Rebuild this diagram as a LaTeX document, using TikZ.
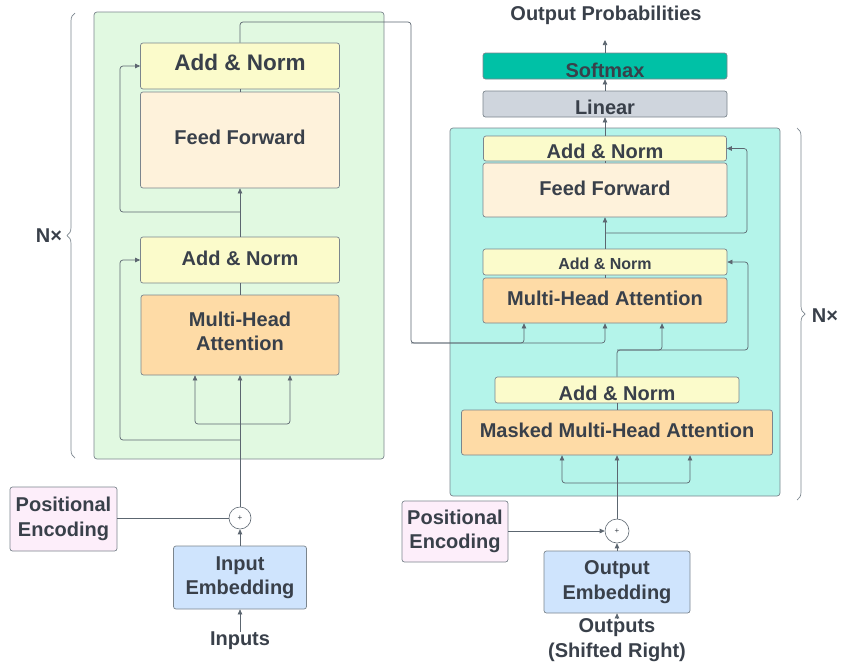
\documentclass[tikz,border=0pt]{standalone}
\usepackage{fontspec}
\setmainfont{Liberation Sans}
\usetikzlibrary{arrows.meta,decorations.pathreplacing}

\definecolor{ink}{HTML}{39404A}
\definecolor{wire}{HTML}{5C6670}
\definecolor{boxline}{HTML}{7B858D}
\definecolor{encbg}{HTML}{E1F9E1}
\definecolor{decbg}{HTML}{B4F4EA}
\definecolor{addnorm}{HTML}{FBFBCB}
\definecolor{ffbg}{HTML}{FEF2DB}
\definecolor{mhabg}{HTML}{FEDBA6}
\definecolor{softbg}{HTML}{00C1A6}
\definecolor{linbg}{HTML}{CFD5DD}
\definecolor{pebg}{HTML}{FDEEFA}
\definecolor{embbg}{HTML}{CFE4FD}

\newcommand\labelfont{\fontsize{20}{24.5}\selectfont\bfseries}

\begin{document}
\begin{tikzpicture}[x=1pt,y=-1pt,
  font=\labelfont, text=ink,
  container/.style={draw=boxline, line width=0.7pt, rounded corners=3pt, inner sep=0pt},
  box/.style={draw=boxline, line width=0.7pt, rounded corners=2.5pt, inner sep=0pt, align=center},
  textbox/.style 2 args={text height=#1, text depth=#2},
  plain/.style={inner sep=0pt, align=center},
  sumnode/.style={circle, draw=wire, line width=0.6pt, fill=white, inner sep=0pt,
                  font=\fontsize{8}{8}\selectfont},
  conn/.style={draw=wire, line width=0.7pt, rounded corners=3pt},
  arr/.style={conn, -{Triangle[length=5pt,width=4.5pt]}},
  bracket/.style={draw=boxline, line width=0.7pt, decorate, decoration={brace, amplitude=8pt}}]
\useasboundingbox (0,0) rectangle (842,667);

% stack containers
\node[container, fill=encbg, minimum width=290pt, minimum height=447pt] (enc) at (239,235.5) {};
\node[container, fill=decbg, minimum width=330pt, minimum height=368pt] (dec) at (615,312) {};

% encoder layer
\node[box, fill=addnorm, minimum width=199pt, minimum height=46pt, textbox={16.1pt}{6.7pt},
      font=\fontsize{22.5}{27}\selectfont\bfseries] (enAN1) at (240,66) {Add \& Norm};
\node[box, fill=ffbg, minimum width=199pt, minimum height=96pt, textbox={14.4pt}{6.4pt}] (enFF) at (240,140) {Feed Forward};
\node[box, fill=addnorm, minimum width=199pt, minimum height=46pt, textbox={14.4pt}{4.4pt}] (enAN2) at (240,260) {Add \& Norm};
\node[box, fill=mhabg, minimum width=198pt, minimum height=80pt, textbox={39.1pt}{7.7pt}] (enMHA) at (240,335) {Multi-Head\\Attention};

% encoder input
\node[box, fill=pebg, minimum width=107pt, minimum height=64pt] (enPE) at (63.5,519) {Positional\\Encoding};
\node[sumnode, minimum size=22pt] (enSum) at (240,518) {+};
\node[box, fill=embbg, minimum width=133pt, minimum height=63pt] (enEmb) at (240,577.5) {Input\\Embedding};
\node[plain] (inputs) at (240,641) {Inputs};

% decoder layer
\node[box, fill=addnorm, minimum width=243pt, minimum height=25pt, textbox={19pt}{0pt}] (deAN1) at (605,148.5) {Add \& Norm};
\node[box, fill=ffbg, minimum width=244pt, minimum height=54pt, textbox={14.4pt}{4.4pt}] (deFF) at (605,190) {Feed Forward};
\node[box, fill=addnorm, minimum width=244pt, minimum height=26pt, textbox={14pt}{0pt},
      font=\fontsize{16}{19}\selectfont\bfseries] (deAN2) at (605,262) {Add \& Norm};
\node[box, fill=mhabg, minimum width=244pt, minimum height=45pt, textbox={14.4pt}{5.4pt}] (deMHA) at (605,300.5) {Multi-Head Attention};
\node[box, fill=addnorm, minimum width=244pt, minimum height=26pt, textbox={21.4pt}{0pt}] (deAN3) at (617,390) {Add \& Norm};
\node[box, fill=mhabg, minimum width=311pt, minimum height=45pt, textbox={14.4pt}{4.8pt}] (deMMHA) at (617,432.5) {Masked Multi-Head Attention};

% output head
\node[box, fill=linbg, minimum width=244pt, minimum height=26pt, textbox={20.6pt}{0pt}] (linear) at (605,104) {Linear};
\node[box, fill=softbg, minimum width=244pt, minimum height=26pt, textbox={23pt}{0pt}] (softmax) at (605,66) {Softmax};
\node[plain] (probs) at (606,15) {Output Probabilities};

% decoder input
\node[box, fill=pebg, minimum width=106pt, minimum height=61pt] (dePE) at (455,531.5) {Positional\\Encoding};
\node[sumnode, minimum size=24pt] (deSum) at (617,531) {+};
\node[box, fill=embbg, minimum width=146pt, minimum height=62pt] (deEmb) at (617,582) {Output\\Embedding};
\node[plain] (outputs) at (617,640) {Outputs\\(Shifted Right)};

% repetition braces
\coordinate (lbTop) at (75,13);
\coordinate (lbBot) at (75,458);
\draw[bracket] (lbBot) -- (lbTop);
\node[plain] (nEnc) at (49,236) {N×};
\coordinate (rbTop) at (797,128);
\coordinate (rbBot) at (797,500);
\draw[bracket] (rbTop) -- (rbBot);
\node[plain] (nDec) at (825,316) {N×};

% encoder wiring
\draw[arr] (inputs.north) -- (enEmb.south);
\draw[arr] (enEmb.north) -- (enSum.south);
\draw[conn] (enPE.east |- enSum.west) -- (enSum.west);
\draw[arr] (enSum.north) -- (enMHA.south);
\coordinate (eSplit) at (240,424);
\coordinate (eQ) at (195,424);
\coordinate (eK) at (290,424);
\draw[arr] (eSplit) -- (eQ) -- (eQ |- enMHA.south);
\draw[arr] (eSplit) -- (eK) -- (eK |- enMHA.south);
\coordinate (eRes1) at (120,440);
\draw[arr] (enSum.north |- eRes1) -- (eRes1) -- (eRes1 |- enAN2.west) -- (enAN2.west);
\draw[conn] (enMHA.north) -- (enAN2.south);
\draw[arr] (enAN2.north) -- (enFF.south);
\coordinate (eRes2) at (120,212);
\draw[arr] (enFF.south |- eRes2) -- (eRes2) -- (eRes2 |- enAN1.west) -- (enAN1.west);
\draw[conn] (enFF.north) -- (enAN1.south);

% encoder output into decoder cross attention
\coordinate (xTop) at (411,22);
\coordinate (xBot) at (411,343);
\coordinate (xMid) at (524,343);
\draw[arr] (enAN1.north) -- (enAN1.north |- xTop) -- (xTop) -- (xBot) -- (xBot -| deMHA.south) -- (deMHA.south);
\draw[arr] (xBot) -- (xMid) -- (xMid |- deMHA.south);

% decoder wiring
\draw[arr] (outputs.north) -- (deEmb.south);
\draw[arr] (deEmb.north) -- (deSum.south);
\draw[arr] (dePE.east |- deSum.west) -- (deSum.west);
\draw[arr] (deSum.north) -- (deMMHA.south);
\coordinate (dSplit) at (617,483);
\coordinate (dQ) at (562,483);
\coordinate (dK) at (690,483);
\draw[arr] (dSplit) -- (dQ) -- (dQ |- deMMHA.south);
\draw[arr] (dSplit) -- (dK) -- (dK |- deMMHA.south);
\draw[conn] (deMMHA.north) -- (deAN3.south);
\coordinate (dUp) at (617,350);
\coordinate (dQ2) at (662,350);
\coordinate (dRes1) at (748,350);
\draw[arr] (deAN3.north) -- (dUp) -- (dRes1) -- (dRes1 |- deAN2.east) -- (deAN2.east);
\draw[arr] (dUp) -- (dQ2) -- (dQ2 |- deMHA.south);
\draw[conn] (deMHA.north) -- (deAN2.south);
\draw[arr] (deAN2.north) -- (deFF.south);
\coordinate (dRes2) at (747,233);
\draw[arr] (deFF.south |- dRes2) -- (dRes2) -- (dRes2 |- deAN1.east) -- (deAN1.east);
\draw[conn] (deFF.north) -- (deAN1.south);
\draw[arr] (deAN1.north) -- (linear.south);
\draw[arr] (linear.north) -- (softmax.south);
\coordinate (probTip) at (605,40);
\draw[arr] (softmax.north) -- (probTip);
\end{tikzpicture}
\end{document}
